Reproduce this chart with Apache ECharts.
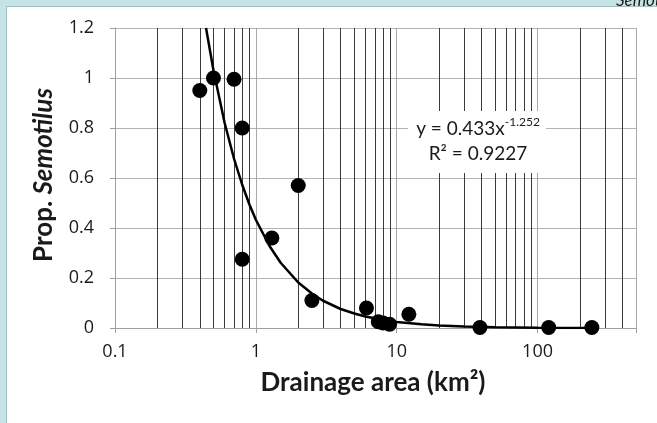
<!DOCTYPE html>
<html>
<head>
<meta charset="utf-8">
<script src="https://cdn.jsdelivr.net/npm/echarts@6/dist/echarts.min.js"></script>
<style>
  html, body { margin: 0; padding: 0; width: 657px; height: 423px; overflow: hidden; background: #c4e4e6; }
  #panel { position: absolute; left: 6px; top: 6px; right: 0; bottom: 0; background: #ffffff; border-left: 1px solid #98c4c7; border-top: 1px solid #98c4c7; }
  #chart { position: absolute; left: 0; top: 0; width: 657px; height: 423px; }
</style>
</head>
<body>
<div id="panel"></div>
<div id="chart"></div>
<script>
// Observed data: drainage area (km²) vs proportion Semotilus
const areaX = [0.40, 0.50, 0.70, 0.80, 0.80, 2.0, 1.3, 2.5, 6.1, 7.4, 8.0, 8.9, 12.2, 39, 120, 243];
const propY = [0.95, 1.00, 0.995, 0.80, 0.275, 0.57, 0.36, 0.11, 0.08, 0.025, 0.02, 0.015, 0.055, 0.002, 0.002, 0.002];

// Power trendline points
const trendX = [0.443, 0.5, 0.6, 0.7, 0.8, 0.9, 1, 1.25, 1.5, 2, 2.5, 3, 4, 5, 6, 8, 10, 15, 20, 30, 50, 100, 243];
const trendY = [1.200, 1.031, 0.821, 0.677, 0.573, 0.494, 0.433, 0.328, 0.261, 0.182, 0.138, 0.109, 0.076, 0.058, 0.046, 0.032, 0.024, 0.015, 0.010, 0.006, 0.003, 0.0014, 0.0005];

// Axis ticks
const xMajorTicks = [0.1, 1, 10, 100];
const xTickLabels = ['0.1', '1', '10', '100'];
const xMinorGrid = [0.2, 0.3, 0.4, 0.5, 0.6, 0.7, 0.8, 0.9, 2, 3, 4, 5, 6, 7, 8, 9, 20, 30, 40, 50, 60, 70, 80, 90, 200, 300, 400];
const yTicks = [0, 0.2, 0.4, 0.6, 0.8, 1, 1.2];
const yTickLabels = ['0', '0.2', '0.4', '0.6', '0.8', '1', '1.2'];

const equationText = 'y = 0.433x';
const equationExp = '-1.252';
const r2Text = 'R² = 0.9227';

const FONT = 'Lato';
const TICK_FONT = 'Open Sans';
const X_MIN = 0.1, X_MAX = 500;

const chart = echarts.init(document.getElementById('chart'), null, { renderer: 'canvas' });

const baseGraphics = [
  {
    type: 'rect',
    z: 50,
    shape: { x: 408, y: 111, width: 138, height: 62 },
    style: { fill: '#ffffff' }
  },
  {
    type: 'text',
    z: 51,
    x: 478,
    y: 141,
    style: {
      text: '{a|' + equationText + '}{s|' + equationExp + '}\n{b|' + r2Text + '}',
      align: 'center',
      verticalAlign: 'middle',
      fill: '#1a1a1a',
      rich: {
        a: { fontFamily: FONT, fontSize: 19, lineHeight: 25, fill: '#1a1a1a' },
        s: { fontFamily: FONT, fontSize: 12, lineHeight: 21, fill: '#1a1a1a', verticalAlign: 'top' },
        b: { fontFamily: FONT, fontSize: 19, lineHeight: 25, fill: '#1a1a1a' }
      }
    }
  },
  {
    type: 'text',
    z: 51,
    x: 44,
    y: 175,
    rotation: Math.PI / 2,
    style: {
      text: '{a|Prop. }{b|Semotilus}',
      align: 'center',
      verticalAlign: 'middle',
      rich: {
        a: { fontFamily: FONT, fontSize: 26, fontWeight: 'bold', fill: '#1a1a1a' },
        b: { fontFamily: FONT, fontSize: 26, fontWeight: 'bold', fontStyle: 'italic', fill: '#1a1a1a' }
      }
    }
  },
  {
    type: 'text',
    z: 51,
    x: 373,
    y: 383,
    style: {
      text: 'Drainage area (km²)',
      align: 'center',
      verticalAlign: 'middle',
      fontFamily: FONT,
      fontSize: 26,
      fontWeight: 'bold',
      fill: '#1a1a1a'
    }
  },
  {
    type: 'text',
    z: 51,
    x: 616,
    y: 9,
    style: {
      text: 'Semotilus',
      align: 'left',
      verticalAlign: 'bottom',
      fontFamily: FONT,
      fontSize: 17,
      fontStyle: 'italic',
      fill: '#1a1a1a'
    }
  }
];

const option = {
  backgroundColor: 'transparent',
  animation: false,
  textStyle: { fontFamily: FONT },
  grid: { left: 115, right: 21, top: 28, bottom: 95, containLabel: false },
  xAxis: {
    type: 'log',
    logBase: 10,
    min: X_MIN,
    max: X_MAX,
    axisLine: { show: true, lineStyle: { color: '#9e9e9e', width: 1 } },
    axisTick: { show: true, inside: false, length: 5, lineStyle: { color: '#9e9e9e' } },
    splitLine: { show: true, lineStyle: { color: '#a8a8a8', width: 1 } },
    axisLabel: { show: false }
  },
  yAxis: {
    type: 'value',
    min: 0,
    max: 1.2,
    interval: 0.2,
    axisLine: { show: true, lineStyle: { color: '#9e9e9e', width: 1 } },
    axisTick: { show: true, inside: false, length: 5, lineStyle: { color: '#9e9e9e' } },
    splitLine: { show: true, lineStyle: { color: '#b4b4b4', width: 1 } },
    axisLabel: { show: false }
  },
  series: [
    {
      name: 'minorGrid',
      type: 'line',
      data: [],
      silent: true,
      z: 1,
      markLine: {
        silent: true,
        symbol: 'none',
        animation: false,
        label: { show: false },
        lineStyle: { color: '#3a3a3a', width: 1, type: 'solid' },
        emphasis: { disabled: true },
        data: xMinorGrid.map(v => ({ xAxis: v }))
      }
    },
    {
      name: 'trend',
      type: 'line',
      data: trendX.map((x, i) => [x, trendY[i]]),
      showSymbol: false,
      symbol: 'none',
      smooth: false,
      clip: true,
      lineStyle: { color: '#000000', width: 2.5 },
      z: 5
    },
    {
      name: 'observed',
      type: 'scatter',
      data: areaX.map((x, i) => [x, propY[i]]),
      symbol: 'circle',
      symbolSize: 15,
      itemStyle: { color: '#000000', opacity: 1 },
      z: 6
    }
  ],
  graphic: baseGraphics
};

chart.setOption(option);

// Tick labels placed through the chart's own axis scales
const finder = { xAxisIndex: 0, yAxisIndex: 0 };
const tickGraphics = [];
xMajorTicks.forEach((v, i) => {
  const p = chart.convertToPixel(finder, [v, 0]);
  tickGraphics.push({
    type: 'text', z: 51, x: p[0], y: p[1] + 24,
    style: { text: xTickLabels[i], align: 'center', verticalAlign: 'middle',
             fontFamily: TICK_FONT, fontSize: 18, fill: '#1a1a1a' }
  });
});
yTicks.forEach((v, i) => {
  const p = chart.convertToPixel(finder, [X_MIN, v]);
  tickGraphics.push({
    type: 'text', z: 51, x: p[0] - 21, y: p[1],
    style: { text: yTickLabels[i], align: 'right', verticalAlign: 'middle',
             fontFamily: TICK_FONT, fontSize: 18, fill: '#1a1a1a' }
  });
});
chart.setOption({ graphic: baseGraphics.concat(tickGraphics) });
</script>
</body>
</html>
